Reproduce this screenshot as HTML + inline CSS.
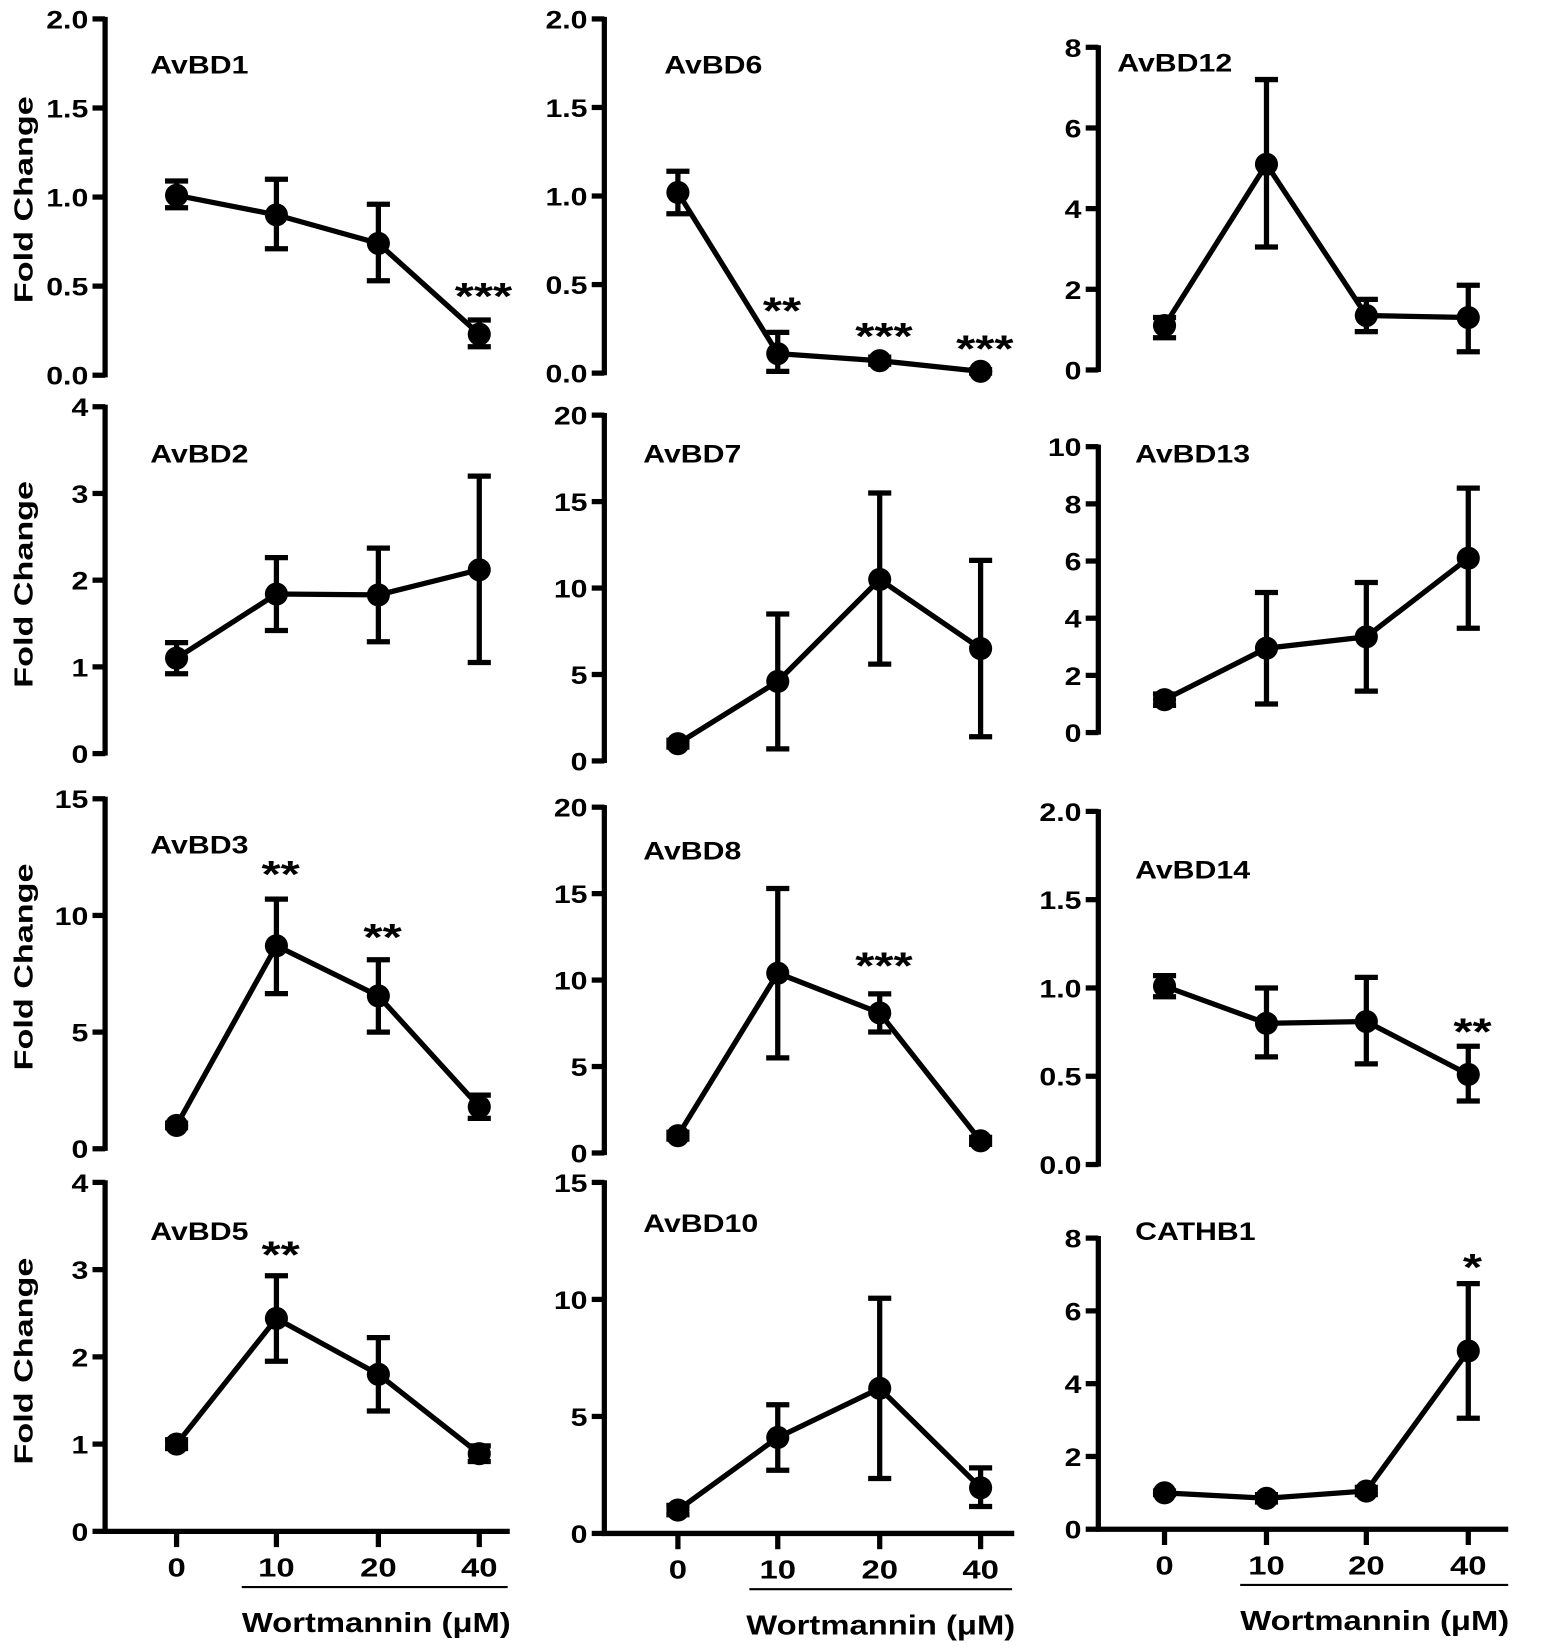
<!DOCTYPE html>
<html><head><meta charset="utf-8"><style>
html,body{margin:0;padding:0;background:#fff}
svg{display:block}
text{font-family:"Liberation Sans",Arial,sans-serif;font-weight:bold;fill:#000}
</style></head><body>
<svg id="s" width="1545" height="1648" viewBox="0 0 1470 1568" xmlns="http://www.w3.org/2000/svg"></svg>
<script>
const s=document.getElementById('s');
let h='';
function T(x,y,str,fs,sx,anc,rot){
  return `<g transform="translate(${x},${y})${rot?' rotate(-90)':''} scale(${sx},1)"><text x="0" y="0" font-size="${fs}" text-anchor="${anc||'start'}">${str}</text></g>`;
}
const cols=[{ax:100,xs:[168,263,360,456],end:485,ul:[230,483],lc:358},
{ax:575,xs:[645,740,837,933],end:965,ul:[713,963],lc:838},
{ax:1045,xs:[1108,1205,1300,1397],end:1435,ul:[1180,1435],lc:1308}];
const P=[
[0,357,18,2,0.5,1,'AvBD1',143,70,[[1.01,.94,1.09],[.9,.71,1.1],[.74,.53,.96],[.23,.16,.31]],[[3,'***',294]],190],
[1,355,18,2,0.5,1,'AvBD6',632,70,[[1.02,.9,1.14],[.11,.01,.23],[.07,.05,.09],[.01,0,.02]],[[1,'**',308],[2,'***',332],[3,'***',344]],null],
[2,352,45,8,2,0,'AvBD12',1063,68,[[1.1,.8,1.3],[5.1,3.05,7.2],[1.35,.95,1.75],[1.3,.45,2.1]],[],null],
[0,717,387,4,1,0,'AvBD2',143,440,[[1.1,.92,1.28],[1.84,1.42,2.26],[1.83,1.29,2.37],[2.12,1.05,3.2]],[],556],
[1,724,395,20,5,0,'AvBD7',612,440,[[1,.8,1.2],[4.6,.7,8.5],[10.5,5.6,15.5],[6.5,1.4,11.6]],[],null],
[2,697,425,10,2,0,'AvBD13',1080,440,[[1.15,.95,1.35],[2.95,1,4.9],[3.35,1.45,5.25],[6.1,3.65,8.55]],[],null],
[0,1093,760,15,5,0,'AvBD3',143,812,[[1,.9,1.1],[8.7,6.65,10.7],[6.55,5,8.1],[1.8,1.3,2.3]],[[1,'**',844],[2,'**',904]],920],
[1,1097,768,20,5,0,'AvBD8',612,818,[[1,.8,1.2],[10.4,5.5,15.3],[8.1,7,9.2],[.7,.5,.9]],[[2,'***',931]],null],
[2,1108,772,2,0.5,1,'AvBD14',1080,836,[[1.01,.95,1.07],[.8,.61,1],[.81,.57,1.06],[.51,.36,.67]],[[3,'**',994]],null],
[0,1457,1125,4,1,0,'AvBD5',143,1180,[[1,.95,1.05],[2.44,1.95,2.93],[1.8,1.38,2.22],[.89,.8,.98]],[[1,'**',1206]],1295],
[1,1459,1125,15,5,0,'AvBD10',612,1172,[[1,.8,1.2],[4.1,2.7,5.5],[6.2,2.35,10.05],[1.95,1.15,2.8]],[],null],
[2,1455,1178,8,2,0,'CATHB1',1080,1180,[[1,.95,1.05],[.85,.75,.95],[1.05,.95,1.15],[4.9,3.05,6.75]],[[3,'*',1218]],null]];
P.forEach(p=>{
 const [ci,y0,yt,max,step,dec,title,tx,ty,d,st,fc]=p;const c=cols[ci];
 const Y=v=>y0-(y0-yt)*v/max;
 h+=`<line x1="${c.ax}" y1="${yt-2}" x2="${c.ax}" y2="${y0+2}" stroke="#000" stroke-width="5"/>`;
 for(let v=0;v<=max+1e-9;v+=step){const y=Y(v);
  h+=`<line x1="${c.ax-12}" y1="${y}" x2="${c.ax}" y2="${y}" stroke="#000" stroke-width="5"/>`;
  h+=T(c.ax-16,y+9,dec?v.toFixed(1):v,24,1.2,'end');}
 h+=T(tx,ty,title,24,1.2);
 if(fc)h+=T(31,fc,'Fold Change',25,1.3,'middle',true);
 const pts=d.map((e,i)=>[c.xs[i],Y(e[0])]);
 h+=`<polyline points="${pts.map(q=>q.join(',')).join(' ')}" fill="none" stroke="#000" stroke-width="5"/>`;
 d.forEach((e,i)=>{const x=c.xs[i];const a=Y(e[1]),b=Y(e[2]);
  h+=`<line x1="${x}" y1="${a}" x2="${x}" y2="${b}" stroke="#000" stroke-width="5"/>`;
  h+=`<line x1="${x-11}" y1="${a}" x2="${x+11}" y2="${a}" stroke="#000" stroke-width="5"/>`;
  h+=`<line x1="${x-11}" y1="${b}" x2="${x+11}" y2="${b}" stroke="#000" stroke-width="5"/>`;
  h+=`<circle cx="${x}" cy="${pts[i][1]}" r="11" fill="#000"/>`;});
 st.forEach(q=>{h+=T(c.xs[q[0]]+4,q[2],q[1],36,1.3,'middle');});
 if(y0>1400){
  h+=`<line x1="${c.ax-2}" y1="${y0}" x2="${c.end}" y2="${y0}" stroke="#000" stroke-width="5"/>`;
  ['0','10','20','40'].forEach((l,i)=>{const x=c.xs[i];
   h+=`<line x1="${x}" y1="${y0}" x2="${x}" y2="${y0+15}" stroke="#000" stroke-width="5"/>`;
   h+=T(x,y0+43,l,25,1.25,'middle');});
  h+=`<line x1="${c.ul[0]}" y1="${y0+53}" x2="${c.ul[1]}" y2="${y0+53}" stroke="#000" stroke-width="2"/>`;
  h+=T(c.lc,y0+96,'Wortmannin (μM)',26,1.2,'middle');
 }
});
s.innerHTML=h;
</script>
</body></html>
